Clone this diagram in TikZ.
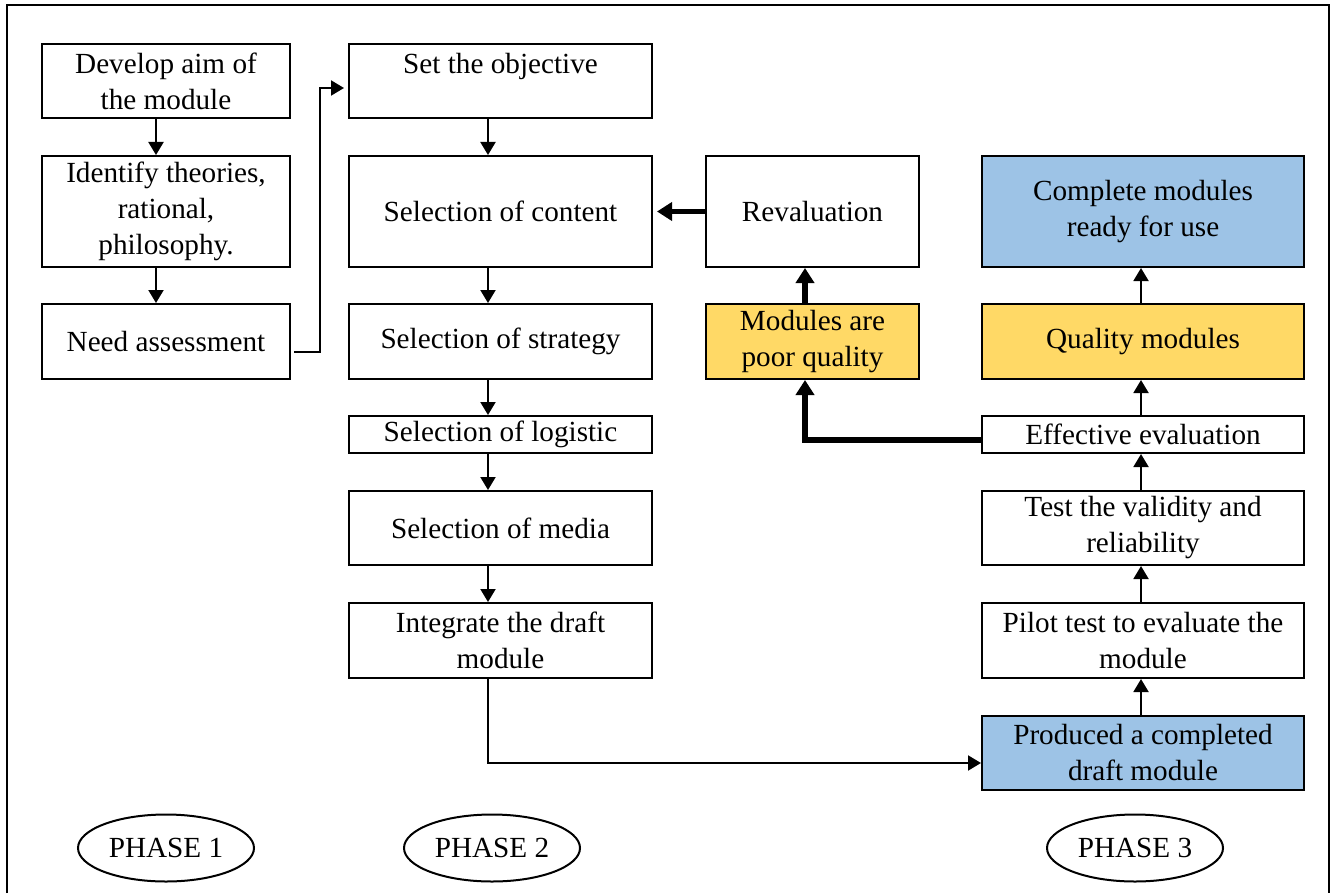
\documentclass[tikz,border=0pt]{standalone}
\usepackage{fontspec}
\setmainfont{Liberation Serif}
\usetikzlibrary{arrows.meta,shapes.geometric,calc}
\definecolor{blueF}{RGB}{157,195,230}
\definecolor{yellowF}{RGB}{255,217,102}
\tikzset{
  box/.style={draw, line width=1pt, inner sep=0pt, align=center, font=\fontsize{14.6}{18}\selectfont},
  arr/.style={line width=1pt, -{Triangle[length=6.5pt,width=7.5pt]}},
  tarr/.style={line width=2.75pt, -{Triangle[length=7.5pt,width=9pt]}},
  phase/.style={draw, ellipse, line width=1pt, inner sep=0pt, minimum width=88pt, minimum height=33.5pt, font=\fontsize{14.6}{18}\selectfont}
}
\begin{document}
\begin{tikzpicture}[x=0.5pt,y=-0.5pt]
\useasboundingbox (0,0) rectangle (1336,893);
\draw[line width=1.2pt] (7,893) -- (7,5) -- (1329,5) -- (1329,893);
% Phase 1
\node[box, minimum width=124pt, minimum height=37pt] (dev) at (166,81) {Develop aim of\\the module};
\node[box, minimum width=124pt, minimum height=55.5pt] (ident) at (166,211.5) {Identify theories,\\rational,\\philosophy.};
\node[box, minimum width=124pt, minimum height=37.5pt] (need) at (166,341.5) {Need assessment};
% Phase 2
\node[box, minimum width=151.5pt, minimum height=37pt] (obj) at (500.5,81) {Set the objective\\\mbox{}};
\node[box, minimum width=151.5pt, minimum height=55.5pt] (content) at (500.5,211.5) {Selection of content};
\node[box, minimum width=151.5pt, minimum height=37.5pt] (strategy) at (500.5,341.5) {Selection of strategy};
\node[box, minimum width=151.5pt, minimum height=18.5pt] (logistic) at (500.5,434.5) {Selection of logistic};
\node[box, minimum width=151.5pt, minimum height=37pt] (media) at (500.5,528) {Selection of media};
\node[box, minimum width=151.5pt, minimum height=37.5pt] (integ) at (500.5,640.5) {Integrate the draft\\module};
% Middle
\node[box, minimum width=106.5pt, minimum height=55.5pt] (reval) at (812.5,211.5) {Revaluation};
\node[box, fill=yellowF, minimum width=106.5pt, minimum height=37.5pt] (poor) at (812.5,341.5) {Modules are\\poor quality};
% Phase 3
\node[box, fill=blueF, minimum width=161pt, minimum height=55.5pt] (complete) at (1143,211.5) {Complete modules\\ready for use};
\node[box, fill=yellowF, minimum width=161pt, minimum height=37.5pt] (quality) at (1143,341.5) {Quality modules};
\node[box, minimum width=161pt, minimum height=18.5pt] (effective) at (1143,434.5) {Effective evaluation};
\node[box, minimum width=161pt, minimum height=37pt] (test) at (1143,528) {Test the validity and\\reliability};
\node[box, minimum width=161pt, minimum height=37.5pt] (pilot) at (1143,640.5) {Pilot test to evaluate the\\module};
\node[box, fill=blueF, minimum width=161pt, minimum height=37pt] (produced) at (1143,753) {Produced a completed\\draft module};
% Phase labels
\node[phase] (p1) at (166,848) {PHASE 1};
\node[phase] (p2) at (492,848) {PHASE 2};
\node[phase] (p3) at (1135,848) {PHASE 3};
% Phase 1 arrows
\draw[arr] ([xshift=-5pt]dev.south) -- ([xshift=-5pt]ident.north);
\draw[arr] ([xshift=-5pt]ident.south) -- ([xshift=-5pt]need.north);
\draw[arr] ([xshift=1.5pt,yshift=-5pt]need.east) -- ++(13pt,0) |- ([xshift=-2pt,yshift=-3.5pt]obj.west);
% Phase 2 arrows
\draw[arr] ([xshift=-6.25pt]obj.south) -- ([xshift=-6.25pt]content.north);
\draw[arr] ([xshift=-6.25pt]content.south) -- ([xshift=-6.25pt]strategy.north);
\draw[arr] ([xshift=-6.25pt]strategy.south) -- ([xshift=-6.25pt]logistic.north);
\draw[arr] ([xshift=-6.25pt]logistic.south) -- ([xshift=-6.25pt]media.north);
\draw[arr] ([xshift=-6.25pt]media.south) -- ([xshift=-6.25pt]integ.north);
\draw[arr] ([xshift=-6.25pt]integ.south) |- ([yshift=-5pt]produced.west);
% Phase 3 arrows
\draw[arr] ([xshift=-1pt]produced.north) -- ([xshift=-1pt]pilot.south);
\draw[arr] ([xshift=-1pt]pilot.north) -- ([xshift=-1pt]test.south);
\draw[arr] ([xshift=-1pt]test.north) -- ([xshift=-1pt]effective.south);
\draw[arr] ([xshift=-1pt]effective.north) -- ([xshift=-1pt]quality.south);
\draw[arr] ([xshift=-1pt]quality.north) -- ([xshift=-1pt]complete.south);
% Thick feedback arrows
\draw[tarr] ([yshift=-2.75pt]effective.west) -| ([xshift=-3.75pt]poor.south);
\draw[tarr] ([xshift=-3.75pt]poor.north) -- ([xshift=-3.75pt]reval.south);
\draw[tarr] (reval.west) -- ([xshift=2pt]content.east);
\end{tikzpicture}
\end{document}
